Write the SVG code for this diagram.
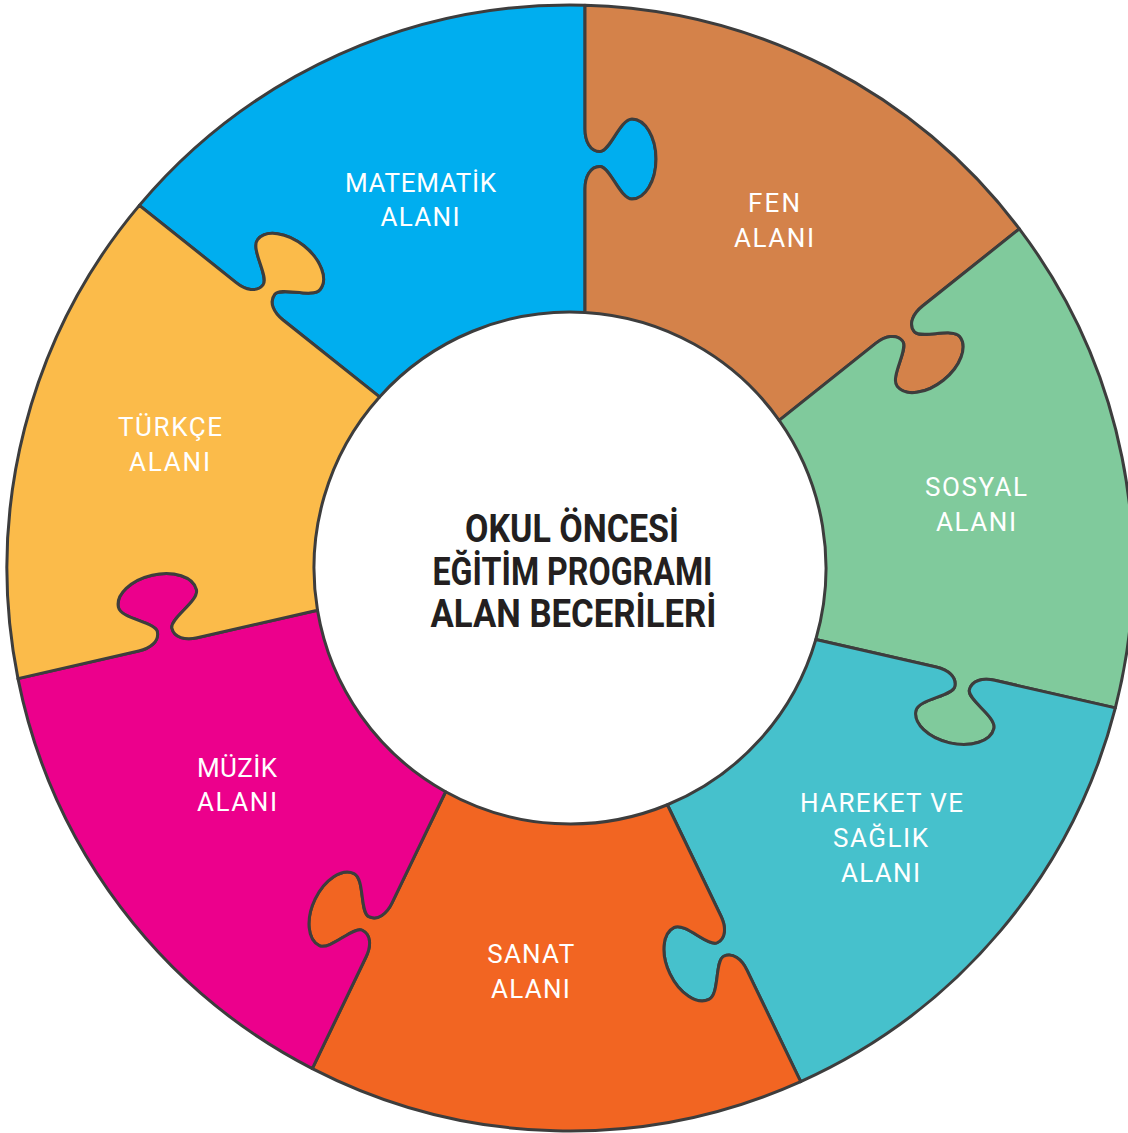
<svg xmlns="http://www.w3.org/2000/svg" xmlns:xlink="http://www.w3.org/1999/xlink" width="1128" height="1133" viewBox="0 0 1128 1133">
<style>
.piece{stroke:#3d3d3d;stroke-width:3;stroke-linejoin:round}
.lbl{font-family:Roboto,"Liberation Sans",sans-serif;font-size:26px;fill:#ffffff;text-anchor:middle}
.title{font-family:Roboto,"Liberation Sans",sans-serif;font-size:39px;font-weight:700;fill:#231f20;text-anchor:middle}
</style>
<defs>
<path id="piece" class="piece" d="M -430.66,-362.63 A 563 563 0 0 1 15,-562.8 L 15,-439 C 15,-427 20,-416.5 30,-416.5 C 40,-416.5 50,-449 62,-449 C 75.2,-449 86,-431 86,-409 C 86,-387 75.2,-369 62,-369 C 50,-369 40,-401.5 30,-401.5 C 20,-401.5 15,-391 15,-379 L 15,-255.56 A 256 256 0 0 0 -190.45,-171.07 L -286.96,-248.03 C -296.35,-255.51 -301.43,-265.97 -295.2,-273.79 C -288.96,-281.6 -257.32,-269.16 -249.84,-278.54 C -241.61,-288.86 -248.95,-308.53 -266.15,-322.25 C -283.35,-335.96 -304.16,-338.74 -312.38,-328.42 C -319.87,-319.04 -300.69,-290.95 -306.93,-283.14 C -313.16,-275.32 -324.49,-277.96 -333.87,-285.44 L -430.66,-362.63 Z"/>
</defs>
<rect width="1128" height="1133" fill="#ffffff"/>
<g id="matematik">
<use href="#piece" xlink:href="#piece" fill="#00aeef" transform="translate(570 568)"/>
<text class="lbl" x="420.5" y="192" textLength="151">MATEMATİK</text>
<text class="lbl" x="420" y="226" textLength="79">ALANI</text>
</g>
<g id="fen">
<use href="#piece" xlink:href="#piece" fill="#d4824a" transform="translate(570 568) rotate(51.4286)"/>
<text class="lbl" x="774" y="212" textLength="52">FEN</text>
<text class="lbl" x="774" y="247" textLength="80">ALANI</text>
</g>
<g id="sosyal">
<use href="#piece" xlink:href="#piece" fill="#80ca9c" transform="translate(570 568) rotate(102.8571)"/>
<text class="lbl" x="976" y="496" textLength="102">SOSYAL</text>
<text class="lbl" x="976" y="531" textLength="80">ALANI</text>
</g>
<g id="hareket">
<use href="#piece" xlink:href="#piece" fill="#46c1cc" transform="translate(570 568) rotate(154.2857)"/>
<text class="lbl" x="881.5" y="812" textLength="163">HAREKET VE</text>
<text class="lbl" x="880.5" y="847" textLength="95">SAĞLIK</text>
<text class="lbl" x="880.5" y="882" textLength="79">ALANI</text>
</g>
<g id="sanat">
<use href="#piece" xlink:href="#piece" fill="#f26522" transform="translate(570 568) rotate(205.7143)"/>
<text class="lbl" x="530.7" y="963" textLength="87">SANAT</text>
<text class="lbl" x="530.4" y="998" textLength="79">ALANI</text>
</g>
<g id="muzik">
<use href="#piece" xlink:href="#piece" fill="#ec008c" transform="translate(570 568) rotate(257.1429)"/>
<text class="lbl" x="237" y="777" textLength="80">MÜZİK</text>
<text class="lbl" x="237" y="811" textLength="80">ALANI</text>
</g>
<g id="turkce">
<use href="#piece" xlink:href="#piece" fill="#fbbb4a" transform="translate(570 568) rotate(308.5714)"/>
<text class="lbl" x="170" y="436" textLength="104">TÜRKÇE</text>
<text class="lbl" x="169.5" y="471" textLength="81">ALANI</text>
</g>
<g id="center">
<text class="title" x="572" y="542" textLength="214" lengthAdjust="spacingAndGlyphs">OKUL ÖNCESİ</text>
<text class="title" x="572.5" y="585" textLength="280" lengthAdjust="spacingAndGlyphs">EĞİTİM PROGRAMI</text>
<text class="title" x="573.5" y="627" textLength="286" lengthAdjust="spacingAndGlyphs">ALAN BECERİLERİ</text>
</g>
<g id="connectors"></g>
</svg>
